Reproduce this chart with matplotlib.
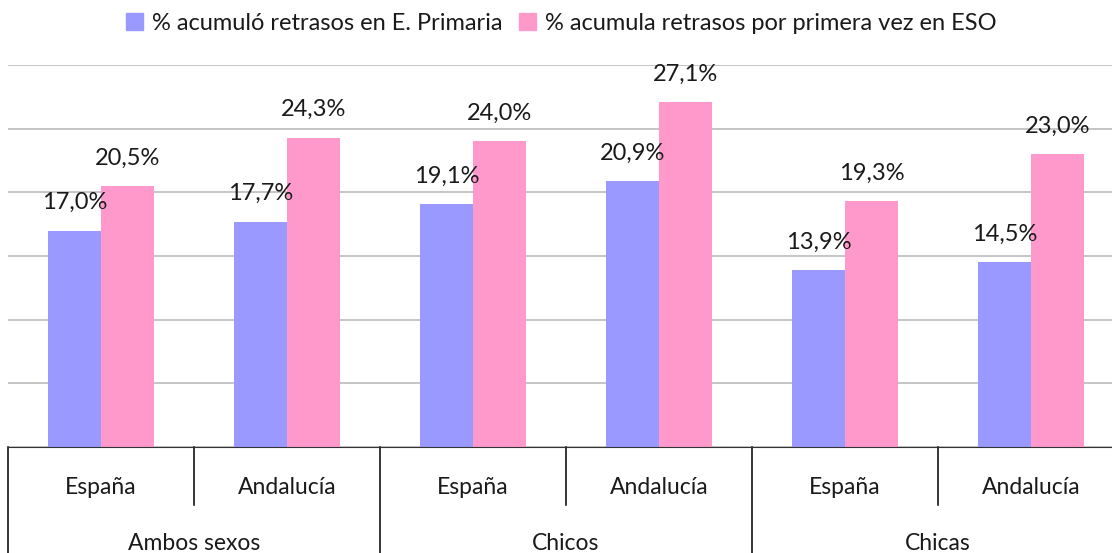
import matplotlib.pyplot as plt
from matplotlib.patches import Patch
from matplotlib.transforms import blended_transform_factory

plt.rcParams['font.family'] = ['Lato', 'DejaVu Sans']

groups = ["Ambos sexos", "Chicos", "Chicas"]
regions = ["España", "Andalucía", "España", "Andalucía", "España", "Andalucía"]
primaria = [17.0, 17.7, 19.1, 20.9, 13.9, 14.5]
eso = [20.5, 24.3, 24.0, 27.1, 19.3, 23.0]
series_names = ["% acumuló retrasos en E. Primaria",
                "% acumula retrasos por primera vez en ESO"]
colors = ["#9999FF", "#FF99CC"]
text_color = "#1a1a1a"

W, H = 1112, 553
fig = plt.figure(figsize=(W / 100, H / 100), dpi=100)
# plot area: baseline at y=447 px, top gridline at y=65 px, categories 186 px wide
ax = fig.add_axes([8 / W, (H - 447) / H, 6 * 186 / W, (447 - 65) / H])

x = list(range(len(regions)))
bw = 0.285
ax.bar([i - bw / 2 for i in x], primaria, bw, color=colors[0], zorder=2)
ax.bar([i + bw / 2 for i in x], eso, bw, color=colors[1], zorder=2)

for i in x:
    for dx, v in ((-bw / 2, primaria[i]), (bw / 2, eso[i])):
        ax.annotate(f"{v:.1f}%".replace(".", ","), (i + dx, v),
                    xytext=(0, 20), textcoords="offset points",
                    ha="center", va="center", fontsize=17,
                    color=text_color, zorder=5)

ax.set_xlim(-0.5, 5.5)
ax.set_ylim(0, 30)
ax.set_yticks(range(0, 31, 5))
ax.yaxis.grid(True, color="#c0c0c0", linewidth=1.3, zorder=0)
ax.set_axisbelow(True)
ax.tick_params(left=False, labelleft=False, bottom=False, labelbottom=False)
for side in ("left", "right", "top"):
    ax.spines[side].set_visible(False)
ax.spines["bottom"].set_color("#333333")

# two-level category axis drawn below the baseline
trans = blended_transform_factory(ax.transData, ax.transAxes)
ax_h = (447 - 65)
for k in range(7):
    xs = k - 0.5
    depth = 106 if k % 2 == 0 else 58
    ax.plot([xs, xs], [0, -depth / ax_h], transform=trans,
            color="black", linewidth=1.1, clip_on=False)
for i, name in enumerate(regions):
    ax.text(i, -41 / ax_h, name, transform=trans, ha="center", va="center",
            fontsize=16.5, color=text_color)
for g, name in enumerate(groups):
    ax.text(2 * g + 0.5, -96 / ax_h, name, transform=trans, ha="center",
            va="center", fontsize=16.5, color=text_color)

handles = [Patch(color=c) for c in colors]
fig.legend(handles, series_names, loc="upper center",
           bbox_to_anchor=(0.505, 1.015), ncol=2, frameon=False,
           fontsize=17, labelcolor=text_color, handlelength=0.7,
           handleheight=0.7, handletextpad=0.4, columnspacing=0.7)

fig.savefig("out.png", dpi=100)
